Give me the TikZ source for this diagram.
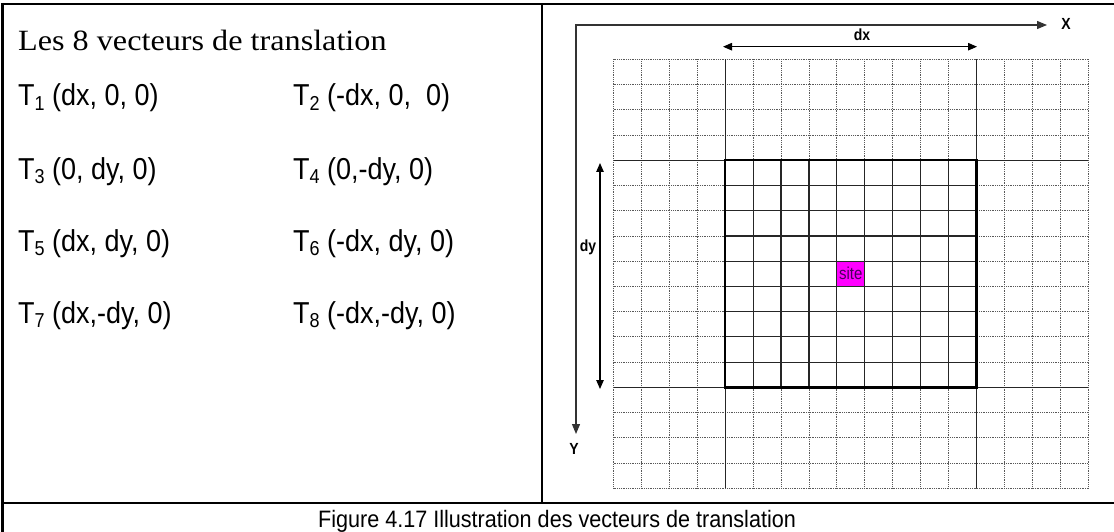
\documentclass[tikz,border=0pt]{standalone}
\usepackage{fontspec}
\setmainfont{Liberation Serif}
\setsansfont{Liberation Sans}
\usetikzlibrary{arrows.meta}
\definecolor{sitemag}{RGB}{255,0,255}
\definecolor{sitetxt}{RGB}{70,0,90}
\newcommand{\sbs}[1]{\raisebox{-0.14em}{\fontsize{18}{18}\selectfont #1}}
\newcommand{\vtxt}[1]{\scalebox{1}[1.12]{#1}}
\newcommand{\ltxt}[1]{\scalebox{1}[1.15]{#1}}
\begin{document}
\begin{tikzpicture}[x=1pt,y=-1pt,
  border/.style={line width=2.2pt, black},
  dotgrid/.style={line width=0.8pt, black!65, dash pattern=on 0.9pt off 0.9pt},
  solidgrid/.style={line width=1.2pt, black!85},
  thickbox/.style={line width=2.4pt, black},
  axis/.style={line width=1.2pt, black!80, line cap=rect, -{Triangle[length=10pt,width=8pt]}},
  dim/.style={line width=1.1pt, black, {Triangle[length=9pt,width=7.5pt]}-{Triangle[length=9pt,width=7.5pt]}},
  lbl/.style={font=\sffamily\bfseries\fontsize{14}{14}\selectfont, inner sep=0pt},
  vec/.style={font=\sffamily\fontsize{27}{27}\selectfont, anchor=base west, inner sep=0pt},
]
\useasboundingbox (0,0) rectangle (1114,532);
\fill[white] (0,0) rectangle (1114,532);

% table frame
\draw[border] (2.5,4) -- (1116,4);
\draw[border] (2.5,3) -- (2.5,534);
\draw[border] (542,4) -- (542,503.3);
\draw[border] (2.5,503.3) -- (1116,503.3);

% left panel texts
\node[anchor=base west, inner sep=0pt, font=\fontsize{28}{28}\selectfont] (title) at (18,51) {\scalebox{1.15}[1.05]{Les 8 vecteurs de translation}};
\node[vec] (t1) at (18,106) {\vtxt{T\sbs{1} (dx, 0, 0)}};
\node[vec] (t2) at (293,106) {\vtxt{T\sbs{2} (-dx, 0, \ 0)}};
\node[vec] (t3) at (18,179) {\vtxt{T\sbs{3} (0, dy, 0)}};
\node[vec] (t4) at (293,179) {\vtxt{T\sbs{4} (0,-dy, 0)}};
\node[vec] (t5) at (18,251) {\vtxt{T\sbs{5} (dx, dy, 0)}};
\node[vec] (t6) at (293,251) {\vtxt{T\sbs{6} (-dx, dy, 0)}};
\node[vec] (t7) at (18,323) {\vtxt{T\sbs{7} (dx,-dy, 0)}};
\node[vec] (t8) at (293,323) {\vtxt{T\sbs{8} (-dx,-dy, 0)}};

% caption
\node[anchor=base, inner sep=0pt, font=\sffamily\fontsize{21.6}{22}\selectfont] (cap) at (557,527.5) {\scalebox{1}[1.1]{Figure 4.17 Illustration des vecteurs de translation}};

% site cell
\node[fill=sitemag, minimum width=27.9pt, minimum height=25.2pt, inner sep=0pt,
      font=\sffamily\fontsize{15}{15}\selectfont, text=sitetxt] (site) at (850.8,273.8) {\ltxt{site}};

% dotted grid
\foreach \i in {0,...,17} \draw[dotgrid] ({613.5+27.92*\i},59.3) -- ({613.5+27.92*\i},488.3);
\foreach \j in {0,...,17} \draw[dotgrid] (613.5,{59.3+25.235*\j}) -- (1088.1,{59.3+25.235*\j});

% solid inner grid
\foreach \i in {5,...,12} \draw[solidgrid] ({613.5+27.92*\i},160.24) -- ({613.5+27.92*\i},387.36);
\foreach \j in {5,...,12} \draw[solidgrid] (725.18,{59.3+25.235*\j}) -- (976.46,{59.3+25.235*\j});
% long lines
\foreach \xx in {725.18,976.46} \draw[solidgrid] (\xx,59.3) -- (\xx,488.3);
\foreach \yy in {160.24,387.36} \draw[solidgrid] (613.5,\yy) -- (1088.1,\yy);
% thick square
\draw[thickbox] (725.18,160.24) rectangle (976.46,387.36);

% axes
\coordinate (O) at (576,25);
\coordinate (Xend) at (1047,25);
\coordinate (Yend) at (576,434);
\draw[axis] (O) -- (Xend);
\draw[axis] (O) -- (Yend);
\node[lbl] (xl) at (1066,23.5) {\ltxt{X}};
\node[lbl] (yl) at (574,449) {\ltxt{Y}};

% dimension arrows
\coordinate (dxa) at (723,46.7);
\coordinate (dxb) at (977,46.7);
\draw[dim] (dxa) -- (dxb);
\node[lbl] (dxl) at (862,35) {\ltxt{dx}};
\coordinate (dya) at (600,163);
\coordinate (dyb) at (600,389);
\draw[dim] (dya) -- (dyb);
\node[lbl] (dyl) at (588,247) {\ltxt{dy}};
\end{tikzpicture}
\end{document}
